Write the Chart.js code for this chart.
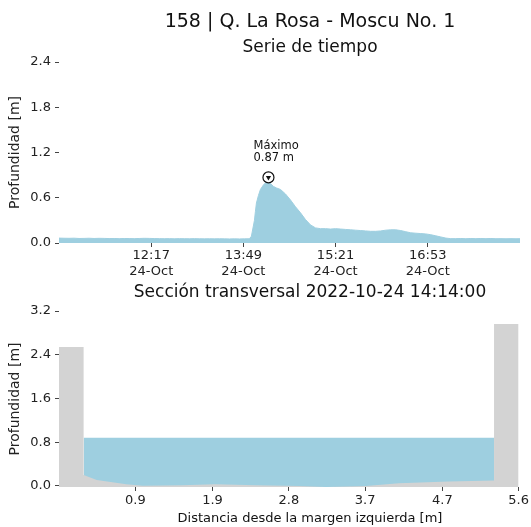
<!DOCTYPE html>
<html lang="es">
<head>
<meta charset="utf-8">
<title>158 | Q. La Rosa - Moscu No. 1</title>
<script src="https://cdn.jsdelivr.net/npm/chart.js@4.4.0/dist/chart.umd.min.js"></script>
<style>
  html, body { margin: 0; padding: 0; background: #fff; }
  #contenedor { width: 531px; height: 527px; overflow: hidden; }
  canvas { display: block; }
</style>
</head>
<body>
<div id="contenedor">
  <canvas id="serie" width="531" height="280"></canvas>
  <canvas id="seccion" width="531" height="247"></canvas>
</div>
<script>
// Serie de tiempo (hora local, 24-Oct)
const horas = [
  '10:45', '10:50', '10:55', '11:00', '11:05', '11:10', '11:15', '11:20', '11:25', '11:30',
  '11:35', '11:40', '11:45', '11:50', '11:55', '12:00', '12:05', '12:10', '12:15', '12:20',
  '12:25', '12:30', '12:35', '12:40', '12:45', '12:50', '12:55', '13:00', '13:05', '13:10',
  '13:15', '13:20', '13:25', '13:30', '13:35', '13:40', '13:45', '13:50', '13:55', '13:57',
  '14:00', '14:01', '14:02', '14:04', '14:06', '14:09', '14:12', '14:14', '14:16', '14:19',
  '14:22', '14:26', '14:31', '14:36', '14:41', '14:46', '14:51', '14:56', '15:01', '15:06',
  '15:11', '15:16', '15:21', '15:26', '15:31', '15:36', '15:41', '15:46', '15:51', '15:56',
  '16:01', '16:06', '16:11', '16:16', '16:21', '16:26', '16:31', '16:36', '16:41', '16:46',
  '16:51', '16:56', '17:01', '17:06', '17:11', '17:16', '17:21', '17:26', '17:31', '17:36',
  '17:41', '17:46', '17:51', '17:56', '18:01', '18:06', '18:11', '18:16', '18:21', '18:25'
];
const profundidad = [
  0.065, 0.063, 0.062, 0.064, 0.060, 0.061, 0.063, 0.060, 0.062, 0.061,
  0.059, 0.060, 0.058, 0.060, 0.059, 0.058, 0.060, 0.062, 0.061, 0.059,
  0.058, 0.057, 0.058, 0.056, 0.058, 0.057, 0.056, 0.058, 0.056, 0.055,
  0.056, 0.055, 0.056, 0.055, 0.054, 0.055, 0.054, 0.055, 0.056, 0.090,
  0.30, 0.42, 0.53, 0.63, 0.71, 0.77, 0.81, 0.87, 0.79, 0.75,
  0.73, 0.71, 0.65, 0.57, 0.48, 0.40, 0.31, 0.24, 0.20, 0.190,
  0.190, 0.185, 0.190, 0.185, 0.180, 0.175, 0.170, 0.165, 0.160, 0.155,
  0.155, 0.160, 0.170, 0.175, 0.175, 0.165, 0.150, 0.135, 0.130, 0.125,
  0.120, 0.110, 0.095, 0.080, 0.065, 0.058, 0.058, 0.060, 0.057, 0.060,
  0.058, 0.060, 0.058, 0.060, 0.057, 0.058, 0.056, 0.058, 0.056, 0.057
];
const horaInicio = '10:45';
const horaFin = '18:25';
const ticksHora = ['12:17', '13:49', '15:21', '16:53'];
const fechaTick = '24-Oct';
const ticksSerie = [0, 0.6, 1.2, 1.8, 2.4];

// Sección transversal
const distancia = [0, 0.3, 0.3, 0.46, 0.82, 1.02, 1.5, 1.9, 2.4, 2.93, 3.25, 3.74, 4.14, 4.75, 5.3, 5.3, 5.6];
const cotaTerreno = [2.54, 2.54, 0.2, 0.11, 0.03, 0.005, 0.01, 0.03, 0.01, 0.0, -0.02, 0.0, 0.05, 0.08, 0.1, 2.96, 2.96];
const nivelAgua = 0.88;
const orillaIzq = 0.3;
const orillaDer = 5.3;
const ticksDistancia = [0.93, 1.87, 2.8, 3.73, 4.67, 5.6];
const ticksSeccion = [0, 0.8, 1.6, 2.4, 3.2];

const AZUL = '#9ecfe0';
const GRIS = '#d3d3d3';
const TEXTO = '#222';
const FAMILIA = '"DejaVu Sans", sans-serif';

Chart.defaults.font.family = FAMILIA;
Chart.defaults.font.size = 13;
Chart.defaults.color = TEXTO;

const aMinutos = h => { const [hh, mm] = h.split(':').map(Number); return hh * 60 + mm; };
const aHora = m => String(Math.floor(m / 60)).padStart(2, '0') + ':' + String(Math.round(m % 60)).padStart(2, '0');

// titulos centrados (como en la figura original)
const titulos = {
  id: 'titulos',
  afterDraw(chart, args, opts) {
    const ctx = chart.ctx;
    ctx.save();
    ctx.fillStyle = '#111';
    ctx.textAlign = 'center';
    ctx.textBaseline = 'middle';
    opts.lineas.forEach(l => {
      ctx.font = l.size + 'px ' + FAMILIA;
      ctx.fillText(l.texto, opts.x, l.y);
    });
    ctx.restore();
  }
};

// texto del maximo sobre el marcador
const anotacionMaximo = {
  id: 'anotacionMaximo',
  afterDatasetsDraw(chart, args, opts) {
    const p = chart.getDatasetMeta(1).data[0];
    if (!p) return;
    const ctx = chart.ctx;
    ctx.save();
    ctx.fillStyle = '#111';
    ctx.font = '11.5px ' + FAMILIA;
    ctx.textAlign = 'left';
    ctx.textBaseline = 'middle';
    ctx.fillText('Máximo', p.x - 15, p.y - 31);
    ctx.fillText(opts.valor.toFixed(2) + ' m', p.x - 15, p.y - 19);
    ctx.restore();
  }
};

function ejeY(ticks, min, max) {
  return {
    type: 'linear',
    min: min,
    max: max,
    afterFit: s => { s.width = 59; },
    afterBuildTicks: s => { s.ticks = ticks.map(v => ({ value: v })); },
    ticks: { callback: v => Number(v).toFixed(1), padding: 4, color: TEXTO },
    grid: { drawOnChartArea: false, tickLength: 4, tickColor: '#444' },
    border: { display: false },
    title: { display: true, text: 'Profundidad [m]', color: TEXTO, font: { size: 14 }, padding: { top: 7, bottom: 0 } }
  };
}

// ---- grafico 1: serie de tiempo ----
const puntosSerie = horas.map((h, i) => ({ x: aMinutos(h), y: profundidad[i] }));
const valorMax = Math.max(...profundidad);
const iMax = profundidad.indexOf(valorMax);
const puntoMax = [{ x: aMinutos(horas[iMax]), y: valorMax }];

new Chart(document.getElementById('serie').getContext('2d'), {
  type: 'line',
  data: {
    datasets: [
      {
        data: puntoMax, showLine: false, order: 1,
        pointStyle: 'triangle', rotation: 180, pointRadius: 3,
        pointBackgroundColor: '#111', pointBorderColor: '#111', pointBorderWidth: 0
      },
      {
        data: puntoMax, showLine: false, order: 2,
        pointStyle: 'circle', pointRadius: 5.5,
        pointBackgroundColor: '#fff', pointBorderColor: '#111', pointBorderWidth: 1.2
      },
      {
        data: puntosSerie, order: 3,
        fill: 'origin', backgroundColor: AZUL, borderColor: AZUL,
        borderWidth: 1, pointRadius: 0, tension: 0
      }
    ]
  },
  options: {
    responsive: false,
    animation: false,
    layout: { padding: { top: 62, right: 11, left: 0, bottom: 0 } },
    scales: {
      x: {
        type: 'linear',
        min: aMinutos(horaInicio),
        max: aMinutos(horaFin),
        afterFit: s => { s.height = 37; },
        afterBuildTicks: s => { s.ticks = ticksHora.map(h => ({ value: aMinutos(h) })); },
        ticks: { autoSkip: false, maxRotation: 0, padding: 1, color: TEXTO, callback: v => [aHora(v), fechaTick] },
        grid: { drawOnChartArea: false, tickLength: 4, tickColor: '#444' },
        border: { display: false }
      },
      y: ejeY(ticksSerie, 0, 2.4)
    },
    plugins: {
      legend: { display: false },
      tooltip: { enabled: false },
      titulos: {
        x: 310,
        lineas: [
          { texto: '158 | Q. La Rosa - Moscu No. 1', size: 19, y: 22 },
          { texto: 'Serie de tiempo', size: 17, y: 48 }
        ]
      },
      anotacionMaximo: { valor: valorMax }
    }
  },
  plugins: [titulos, anotacionMaximo]
});

// ---- grafico 2: seccion transversal ----
const puntosTerreno = distancia.map((d, i) => ({ x: d, y: cotaTerreno[i] }));
const puntosAgua = [{ x: orillaIzq, y: nivelAgua }, { x: orillaDer, y: nivelAgua }];

new Chart(document.getElementById('seccion').getContext('2d'), {
  type: 'line',
  data: {
    datasets: [
      {
        data: puntosTerreno, order: 1,
        fill: 'start', backgroundColor: GRIS, borderColor: GRIS,
        borderWidth: 0, pointRadius: 0, tension: 0
      },
      {
        data: puntosAgua, order: 2,
        fill: 'start', backgroundColor: AZUL, borderColor: AZUL,
        borderWidth: 0, pointRadius: 0, tension: 0
      }
    ]
  },
  options: {
    responsive: false,
    animation: false,
    layout: { padding: { top: 31, right: 11, left: 0, bottom: 0 } },
    scales: {
      x: {
        type: 'linear',
        min: 0,
        max: 5.6,
        afterFit: s => { s.height = 40; },
        afterBuildTicks: s => { s.ticks = ticksDistancia.map(v => ({ value: v })); },
        ticks: { autoSkip: false, maxRotation: 0, padding: 2, color: TEXTO, callback: v => Number(v).toFixed(1) },
        grid: { drawOnChartArea: false, tickLength: 4, tickColor: '#444' },
        border: { display: false }
      },
      y: ejeY(ticksSeccion, -0.02, 3.2)
    },
    plugins: {
      legend: { display: false },
      tooltip: { enabled: false },
      titulos: {
        x: 310,
        lineas: [
          { texto: 'Sección transversal 2022-10-24 14:14:00', size: 17, y: 13 },
          { texto: 'Distancia desde la margen izquierda [m]', size: 13, y: 239 }
        ]
      }
    }
  },
  plugins: [titulos]
});
</script>
</body>
</html>
